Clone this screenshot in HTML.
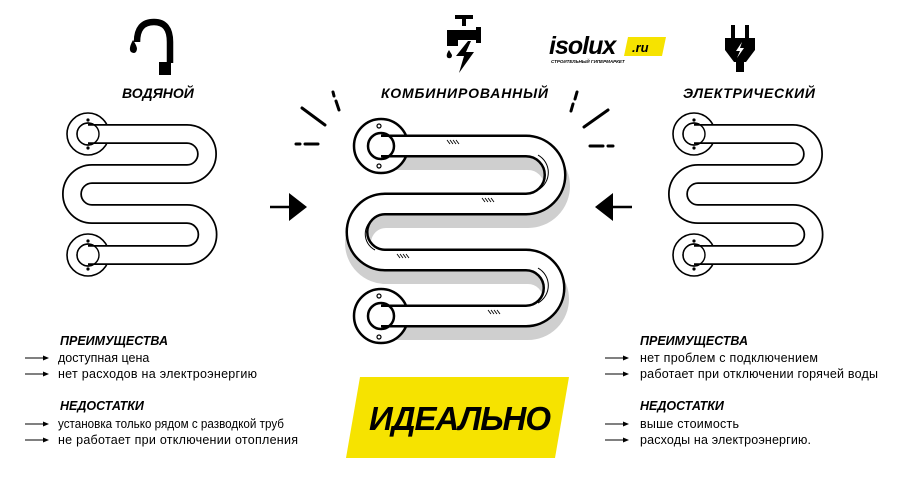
<!DOCTYPE html>
<html><head><meta charset="utf-8"><style>
html,body{margin:0;padding:0;background:#fff;}
svg{display:block;}
text{font-family:"Liberation Sans","DejaVu Sans",sans-serif;}
.h{font-weight:bold;font-style:italic;font-size:14px;}
.s{font-weight:bold;font-style:italic;font-size:12.5px;}
.t{font-size:12.5px;}
</style></head><body>
<svg width="900" height="500" viewBox="0 0 900 500" xmlns="http://www.w3.org/2000/svg">
<defs>
<g id="small">
  <circle cx="0" cy="0" r="21" fill="#fff" stroke="#000" stroke-width="1.6"/>
  <circle cx="0" cy="-14" r="1.6" fill="#000"/><circle cx="0" cy="14" r="1.6" fill="#000"/>
  <circle cx="0" cy="0" r="11" fill="#fff" stroke="#000" stroke-width="1.4"/>
</g>
<g id="sarrow"><line x1="0" y1="0" x2="20" y2="0" stroke="#000" stroke-width="1"/><polygon points="18,-2.5 24,0 18,2.5" fill="#000"/></g>
</defs>

<g>
  <use href="#small" x="88" y="134"/>
  <use href="#small" x="88" y="255"/>
  <path d="M88,134 H187 A20,20 0 0 1 187,174 H92 A20,20 0 0 0 92,214 H187 A20,20 0 0 1 187,255 H88" fill="none" stroke="#000" stroke-width="20"/>
  <path d="M88,134 H187 A20,20 0 0 1 187,174 H92 A20,20 0 0 0 92,214 H187 A20,20 0 0 1 187,255 H88" fill="none" stroke="#fff" stroke-width="16.5"/>
  <circle cx="88" cy="134" r="11" fill="none" stroke="#000" stroke-width="1.4"/>
  <circle cx="88" cy="255" r="11" fill="none" stroke="#000" stroke-width="1.4"/>
</g>
<g transform="translate(606,0)">
  <use href="#small" x="88" y="134"/>
  <use href="#small" x="88" y="255"/>
  <path d="M88,134 H187 A20,20 0 0 1 187,174 H92 A20,20 0 0 0 92,214 H187 A20,20 0 0 1 187,255 H88" fill="none" stroke="#000" stroke-width="20"/>
  <path d="M88,134 H187 A20,20 0 0 1 187,174 H92 A20,20 0 0 0 92,214 H187 A20,20 0 0 1 187,255 H88" fill="none" stroke="#fff" stroke-width="16.5"/>
  <circle cx="88" cy="134" r="11" fill="none" stroke="#000" stroke-width="1.4"/>
  <circle cx="88" cy="255" r="11" fill="none" stroke="#000" stroke-width="1.4"/>
</g>

<g>
  <path d="M388,157 H528 A28,28 0 0 1 528,215 H386 A28,28 0 0 0 386,271 H528 A28,28 0 0 1 528,327 H388" fill="none" stroke="#cfcfcf" stroke-width="26"/>
  <circle cx="381" cy="146" r="27" fill="#fff" stroke="#000" stroke-width="2.5"/>
  <circle cx="381" cy="316" r="27" fill="#fff" stroke="#000" stroke-width="2.5"/>
  <path d="M381,146 H526 A29,29 0 0 1 526,204 H385 A28,28 0 0 0 385,260 H526 A28,28 0 0 1 526,316 H381" fill="none" stroke="#000" stroke-width="23"/>
  <path d="M381,146 H526 A29,29 0 0 1 526,204 H385 A28,28 0 0 0 385,260 H526 A28,28 0 0 1 526,316 H381" fill="none" stroke="#fff" stroke-width="18"/>
  <circle cx="381" cy="146" r="13" fill="none" stroke="#000" stroke-width="2.5"/>
  <circle cx="381" cy="316" r="13" fill="none" stroke="#000" stroke-width="2.5"/>
  <circle cx="379" cy="126" r="2" fill="none" stroke="#000" stroke-width="1.2"/>
  <circle cx="379" cy="166" r="2" fill="none" stroke="#000" stroke-width="1.2"/>
  <circle cx="379" cy="296" r="2" fill="none" stroke="#000" stroke-width="1.2"/>
  <circle cx="379" cy="337" r="2" fill="none" stroke="#000" stroke-width="1.2"/>
  <g stroke="#000" stroke-width="0.9">
    <path d="M447,140 l3,4 M450,140 l3,4 M453,140 l3,4 M456,140 l3,4"/>
    <path d="M482,198 l3,4 M485,198 l3,4 M488,198 l3,4 M491,198 l3,4"/>
    <path d="M397,254 l3,4 M400,254 l3,4 M403,254 l3,4 M406,254 l3,4"/>
    <path d="M488,310 l3,4 M491,310 l3,4 M494,310 l3,4 M497,310 l3,4"/>
  </g>
  <g fill="none" stroke="#000" stroke-width="1">
    <path d="M538,155 A20,20 0 0 1 538,190"/>
    <path d="M375,218 A18,18 0 0 0 375,250"/>
    <path d="M538,268 A20,20 0 0 1 538,303"/>
  </g>
</g>

<g stroke="#000" stroke-width="3" stroke-linecap="round">
  <line x1="302" y1="108" x2="325" y2="125"/>
  <line x1="296" y1="144" x2="300" y2="144"/><line x1="305" y1="144" x2="318" y2="144"/>
  <line x1="333" y1="92" x2="334" y2="96"/><line x1="336" y1="101" x2="339" y2="110"/>
  <line x1="608" y1="110" x2="584" y2="127"/>
  <line x1="590" y1="146" x2="603" y2="146"/><line x1="608" y1="146" x2="613" y2="146"/>
  <line x1="577" y1="92" x2="575" y2="99"/><line x1="573" y1="104" x2="571" y2="111"/>
</g>

<g>
  <line x1="270" y1="207" x2="292" y2="207" stroke="#000" stroke-width="2.5"/>
  <polygon points="289,193 307,207 289,221" fill="#000"/>
  <line x1="632" y1="207" x2="610" y2="207" stroke="#000" stroke-width="2.5"/>
  <polygon points="613,193 595,207 613,221" fill="#000"/>
</g>

<g>
  <path d="M137,42 Q137,22 154,22 Q170,22 170,42 V63" fill="none" stroke="#000" stroke-width="6.5"/>
  <rect x="159" y="62" width="12" height="13" fill="#000"/>
  <path d="M133,40 Q128,49 131,52 Q136,55 137,49 Q137,46 133,40Z" fill="#000"/>
  <rect x="455" y="15" width="18" height="4" fill="#000"/>
  <rect x="462" y="18" width="4" height="8" fill="#000"/>
  <path d="M447,30 H480 V40 H458 V46 H447Z" fill="#000"/>
  <rect x="476" y="27" width="5" height="16" fill="#000"/>
  <path d="M449,50 Q445,56 448,58 Q452,59 452,55Z" fill="#000"/>
  <polygon points="468,41 456,56 464,56 459,73 474,52 466,52 471,41" fill="#000"/>
  <rect x="731" y="25" width="4" height="15" fill="#000"/>
  <rect x="745" y="25" width="4" height="15" fill="#000"/>
  <path d="M725,38 H755 V50 L746,62 H734 L725,50Z" fill="#000"/>
  <rect x="736" y="62" width="8" height="10" fill="#000"/>
  <polygon points="742,42 736,51 740,51 737,58 744,48 740,48" fill="#fff"/>
</g>

<text x="549" y="54" font-size="25" font-weight="bold" font-style="italic" letter-spacing="-1">isolux</text>
<polygon points="628,37 666,37 662,56 624,56" fill="#f6e300"/>
<text x="632" y="52" font-size="13" font-weight="bold" font-style="italic">.ru</text>
<text x="551" y="63" font-size="4.5" font-weight="bold" font-style="italic">СТРОИТЕЛЬНЫЙ ГИПЕРМАРКЕТ</text>

<text class="h" x="122" y="98">ВОДЯНОЙ</text>
<text class="h" x="381" y="98" textLength="167">КОМБИНИРОВАННЫЙ</text>
<text class="h" x="683" y="98" textLength="132">ЭЛЕКТРИЧЕСКИЙ</text>

<polygon points="360,377 569,377 555,458 346,458" fill="#f6e300"/>
<text x="369" y="430" font-size="33" font-weight="bold" font-style="italic" textLength="182">ИДЕАЛЬНО</text>

<text class="s" x="60" y="345">ПРЕИМУЩЕСТВА</text>
<use href="#sarrow" x="25" y="358"/><text class="t" x="58" y="362">доступная цена</text>
<use href="#sarrow" x="25" y="374"/><text class="t" x="58" y="378" textLength="199">нет расходов на электроэнергию</text>
<text class="s" x="60" y="410">НЕДОСТАТКИ</text>
<use href="#sarrow" x="25" y="424"/><text class="t" x="58" y="428" textLength="226" lengthAdjust="spacingAndGlyphs">установка только рядом с разводкой труб</text>
<use href="#sarrow" x="25" y="440"/><text class="t" x="58" y="444" textLength="240">не работает при отключении отопления</text>

<text class="s" x="640" y="345">ПРЕИМУЩЕСТВА</text>
<use href="#sarrow" x="605" y="358"/><text class="t" x="640" y="362" textLength="178">нет проблем с подключением</text>
<use href="#sarrow" x="605" y="374"/><text class="t" x="640" y="378" textLength="238">работает при отключении горячей воды</text>
<text class="s" x="640" y="410">НЕДОСТАТКИ</text>
<use href="#sarrow" x="605" y="424"/><text class="t" x="640" y="428" textLength="99">выше стоимость</text>
<use href="#sarrow" x="605" y="440"/><text class="t" x="640" y="444" textLength="171">расходы на электроэнергию.</text>
</svg>
</body></html>
